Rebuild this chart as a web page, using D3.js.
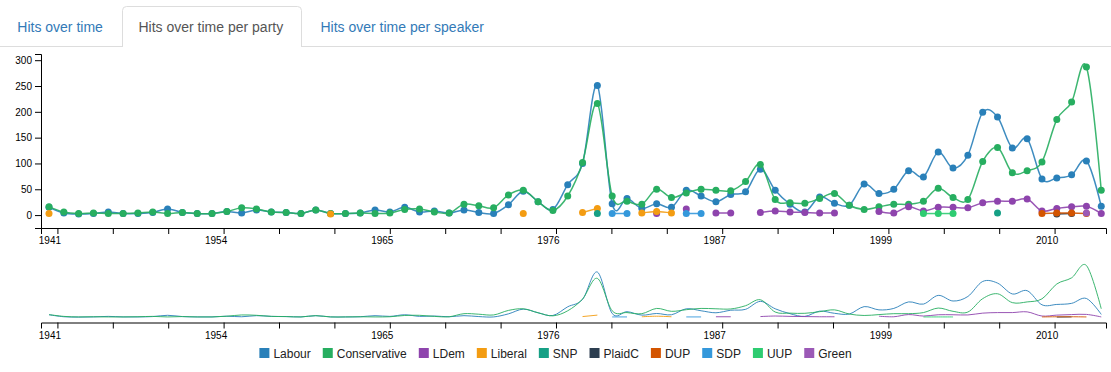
<!DOCTYPE html>
<html><head><meta charset="utf-8">
<script src="https://cdn.jsdelivr.net/npm/d3@7"></script>
<style>
body{margin:0;background:#fff;}
svg text{font-family:"Liberation Sans",Arial,Helvetica,sans-serif;}
</style></head><body>
<svg id="c" width="1111" height="372"></svg>
<script>
// ---------- data ----------
const tabs = ["Hits over time", "Hits over time per party", "Hits over time per speaker"];
const parties = ["Labour","Conservative","LDem","Liberal","SNP","PlaidC","DUP","SDP","UUP","Green"];
const colors = ["#2980b9","#27ae60","#8e44ad","#f39c12","#16a085","#2c3e50","#d35400","#3498db","#2ecc71","#9b59b6"];
const xTickLabels = ["1941","1954","1965","1976","1987","1999","2010"];
const yTicks = [0,50,100,150,200,250,300];

const _ = null;
const labour = [15,4,2,3,6,3,3,5,12,5, 3,3,7,4,10,6,5,3,10,3, 3,4,10,6,15,6,8,4,10,5,
  3,20,46,26,11,59,100,251,22,32, 13,22,15,48,37,26,40,45,89,48,
  21,6,35,23,19,60,42,50,86,74, 122,91,116,199,190,130,148,70,72,78, 105,17];
const conservative = [16,6,3,4,3,3,4,6,3,5, 3,3,7,14,12,6,5,3,10,3, 3,4,3,4,11,12,6,4,21,18,
  14,39,48,26,9,37,102,216,37,27, 21,50,34,43,50,48,47,65,98,30,
  24,23,32,42,19,11,16,21,21,27, 52,34,30,104,131,82,86,103,185,219, 287,48];
const ldem = [_,_,_,_,_,_,_,_,_,_, _,_,_,_,_,_,_,_,_,_, _,_,_,_,_,_,_,_,_,_,
  _,_,_,_,_,_,_,_,_,_, _,3,_,12,_,4,4,_,5,8,
  6,5,4,4,_,_,7,4,16,8, 15,15,14,24,27,27,31,8,13,16, 17,3];
const liberal = [3,_,_,_,_,_,_,_,_,_, _,_,_,_,_,_,_,_,_,2, _,_,_,_,_,_,_,_,_,_,
  _,_,3,_,_,_,5,13,_,_, 4,7,4,_,_,_,_,_,_,_,
  _,_,_,_,_,_,_,_,_,_, _,_,_,_,_,_,_,_,_,_, _,_];
const snp = [_,_,_,_,_,_,_,_,_,_, _,_,_,_,_,_,_,_,_,_, _,_,_,_,_,_,_,_,_,_,
  _,_,_,_,_,_,_,3,_,_, _,_,_,_,_,_,_,_,_,_,
  _,_,_,_,_,_,_,_,_,_, _,_,_,_,4,_,_,_,_,_, _,_];
const plaidc = [_,_,_,_,_,_,_,_,_,_, _,_,_,_,_,_,_,_,_,_, _,_,_,_,_,_,_,_,_,_,
  _,_,_,_,_,_,_,_,_,_, _,_,_,_,_,_,_,_,_,_,
  _,_,_,_,_,_,_,_,_,_, _,_,_,_,_,_,_,_,2,3, _,_];
const dup = [_,_,_,_,_,_,_,_,_,_, _,_,_,_,_,_,_,_,_,_, _,_,_,_,_,_,_,_,_,_,
  _,_,_,_,_,_,_,_,_,_, _,_,_,_,_,_,_,_,_,_,
  _,_,_,_,_,_,_,_,_,_, _,_,_,_,_,_,_,3,4,4, 3,_];
const sdp = [_,_,_,_,_,_,_,_,_,_, _,_,_,_,_,_,_,_,_,_, _,_,_,_,_,_,_,_,_,_,
  _,_,_,_,_,_,_,_,3,3, _,_,_,3,3,_,_,_,_,_,
  _,_,_,_,_,_,_,_,_,_, _,_,_,_,_,_,_,_,_,_, _,_];
const uup = [_,_,_,_,_,_,_,_,_,_, _,_,_,_,_,_,_,_,_,_, _,_,_,_,_,_,_,_,_,_,
  _,_,_,_,_,_,_,_,_,_, _,_,_,_,_,_,_,_,_,_,
  _,_,_,_,_,_,_,_,_,3, 3,3,_,_,_,_,_,_,_,_, _,_];
const green = [_,_,_,_,_,_,_,_,_,_, _,_,_,_,_,_,_,_,_,_, _,_,_,_,_,_,_,_,_,_,
  _,_,_,_,_,_,_,_,_,_, _,_,_,_,_,_,_,_,_,_,
  _,_,_,_,_,_,_,_,_,_, _,_,_,_,_,_,_,_,_,_, 4,_];
const seriesValues = [labour, conservative, ldem, liberal, snp, plaidc, dup, sdp, uup, green];

// ---------- chart ----------
const svg = d3.select("#c");
const W = 1111;

// tabs
svg.append("line").attr("x1",0).attr("x2",W).attr("y1",46.5).attr("y2",46.5).attr("stroke","#ddd");
svg.append("path")
  .attr("d","M122.5,47V10.5Q122.5,6.5 126.5,6.5H297.5Q301.5,6.5 301.5,10.5V47")
  .attr("fill","#fff").attr("stroke","#ddd");
svg.append("rect").attr("x",123).attr("y",45).attr("width",178).attr("height",3).attr("fill","#fff");
const tabX = [17.3, 138.5, 320.5];
svg.selectAll("text.tab").data(tabs).join("text").attr("class","tab")
  .attr("x",(d,i)=>tabX[i]).attr("y",31.5).attr("font-size",14)
  .attr("fill",(d,i)=> i===1 ? "#555" : "#337ab7").text(d=>d);

const n = labour.length;
const x = d3.scaleLinear().domain([-0.54, n - 0.68]).range([41, 1106]);
const y = d3.scaleLinear().domain([-25, 312]).range([228, 54]);
const y2 = d3.scaleLinear().domain([-25, 312]).range([322, 261]);

const tickVals = d3.range(19).map(k => 0.567 + 3.738 * k);
function xAxis(g, yPos) {
  g.attr("transform", `translate(0,${yPos})`)
   .call(d3.axisBottom(x).tickValues(tickVals).tickFormat((d,i)=> i % 3 === 0 ? xTickLabels[i/3] : ""));
  g.selectAll("text").attr("x", -8).attr("font-family",'"Liberation Sans",Arial,sans-serif').attr("font-size",10);
}
svg.append("g").call(xAxis, 228);
svg.append("g").call(xAxis, 322.5);

const ya = svg.append("g").attr("transform","translate(41,0)")
  .call(d3.axisLeft(y).tickValues(yTicks));
ya.selectAll("text").attr("font-family",'"Liberation Sans",Arial,sans-serif').attr("font-size",10);

const lineMain = d3.line().defined(d => d != null).x((d,i)=>x(i)).y(d=>y(d)).curve(d3.curveCardinal);
const lineCtx = d3.line().defined(d => d != null).x((d,i)=>x(i)).y(d=>y2(d)).curve(d3.curveCardinal);

seriesValues.forEach((vals, si) => {
  const g = svg.append("g");
  g.append("path").attr("d", lineMain(vals)).attr("fill","none")
    .attr("stroke", colors[si]).attr("stroke-width",1.5).attr("stroke-opacity",0.9);
  g.selectAll("circle").data(vals.map((v,i)=>({v,i})).filter(d=>d.v!=null)).join("circle")
    .attr("cx",d=>x(d.i)).attr("cy",d=>y(d.v)).attr("r",3.5).attr("fill",colors[si]);
  svg.append("path").attr("d", lineCtx(vals)).attr("fill","none")
    .attr("stroke", colors[si]).attr("stroke-width",1).attr("stroke-opacity",0.9);
});

// legend
const leg = svg.append("g");
let cx = 0;
const items = parties.map((p,i) => {
  const it = leg.append("g");
  it.append("rect").attr("width",10).attr("height",10).attr("y",348).attr("fill",colors[i]);
  const t = it.append("text").attr("x",14).attr("y",357.5).attr("font-size",12).attr("fill","#222").text(p);
  const w = 14 + t.node().getComputedTextLength();
  it.attr("transform",`translate(${cx},0)`);
  cx += w + 12;
  return it;
});
const totalW = cx - 12;
leg.attr("transform", `translate(${555.5 - totalW/2},0)`);
</script>
</body></html>
